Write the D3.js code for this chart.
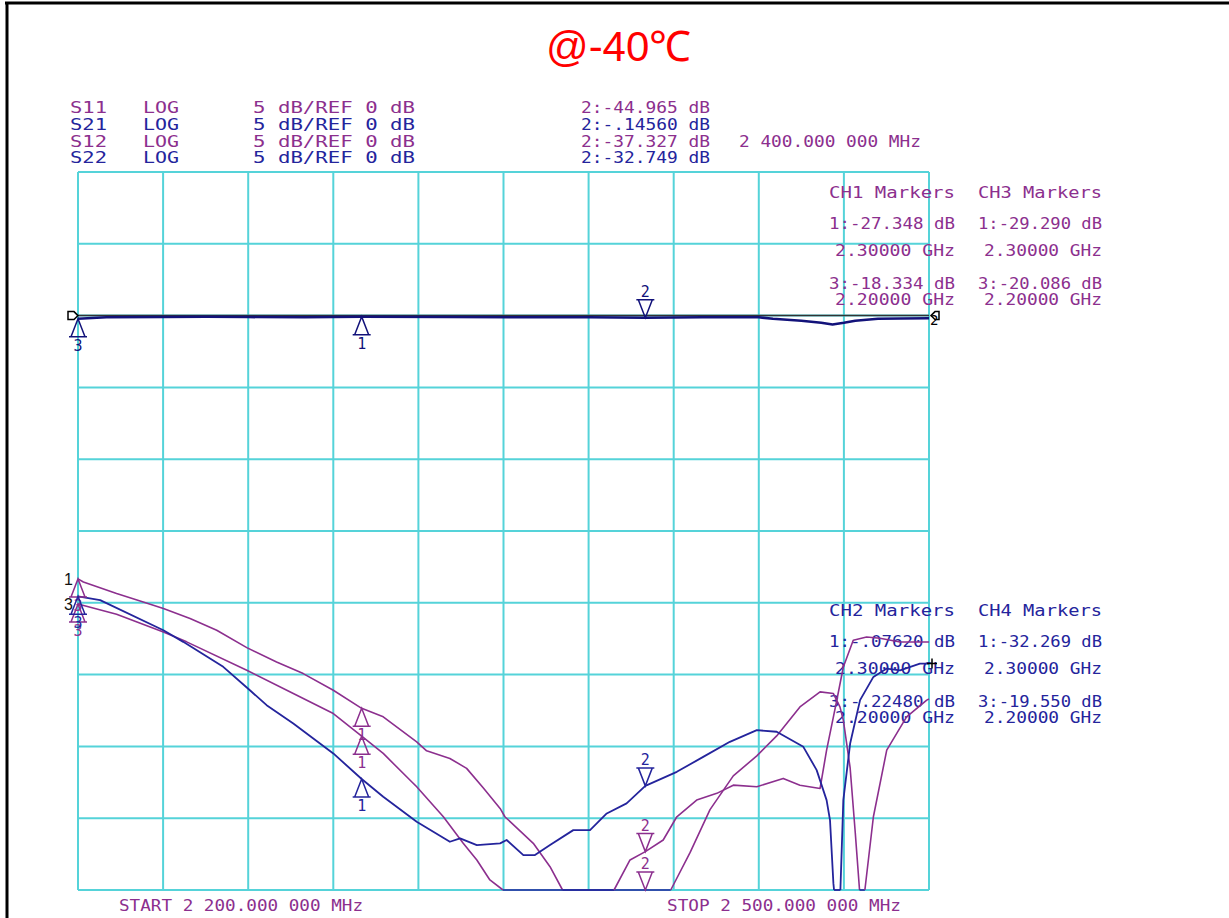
<!DOCTYPE html>
<html><head><meta charset="utf-8">
<script src="https://cdn.jsdelivr.net/npm/d3@7"></script>
<style>body{margin:0;background:#fff}svg{display:block}</style>
</head><body>
<svg id="c" width="1229" height="918"></svg>
<script>
// ---------------- DATA ----------------
const title = "@-40\u2103";
const freqStart = 2.2, freqStop = 2.5;          // GHz
const xGrid = [2.20,2.23,2.26,2.29,2.32,2.35,2.38,2.41,2.44,2.47,2.50];
const yGrid = [10,5,0,-5,-10,-15,-20,-25,-30,-35,-40];
const dbFloor = -40;

const traceNames = ["S11","S21","S12","S22"];
const traceFormat = ["LOG","LOG","LOG","LOG"];
const traceScale = ["5 dB/REF 0 dB","5 dB/REF 0 dB","5 dB/REF 0 dB","5 dB/REF 0 dB"];
const traceReadout = ["2:-44.965 dB","2:-.14560 dB","2:-37.327 dB","2:-32.749 dB"];
const markerFreqLabel = "2 400.000 000 MHz";
const startLabel = "START 2 200.000 000 MHz";
const stopLabel = "STOP 2 500.000 000 MHz";

const ch1Block = ["CH1 Markers","1:-27.348 dB","2.30000 GHz","3:-18.334 dB","2.20000 GHz"];
const ch3Block = ["CH3 Markers","1:-29.290 dB","2.30000 GHz","3:-20.086 dB","2.20000 GHz"];
const ch2Block = ["CH2 Markers","1:-.07620 dB","2.30000 GHz","3:-.22480 dB","2.20000 GHz"];
const ch4Block = ["CH4 Markers","1:-32.269 dB","2.30000 GHz","3:-19.550 dB","2.20000 GHz"];

// marker frequencies (markers 1,2,3)
const markerIds = ["1","2","3"];
const markerFreq = [2.30, 2.40, 2.20];
const s11Mk = [-27.348, -44.965, -18.334];
const s21Mk = [-0.0762, -0.1456, -0.2248];
const s12Mk = [-29.290, -37.327, -20.086];
const s22Mk = [-32.269, -32.749, -19.550];

// S11
const s11Freq = [2.2000,2.2019,2.2136,2.2230,2.2301,2.2395,2.2489,2.2595,2.2700,2.2794,2.2900,2.3000,2.3076,2.3194,2.3229,2.3311,2.3370,2.3429,2.3488,2.3505,2.3605,2.3664,2.3711,2.3800,2.3900,2.4000,2.4060,2.4087,2.4158,2.4228,2.4310,2.4393,2.4463,2.4545,2.4616,2.4663,2.4686,2.4698,2.4722,2.4740,2.4757,2.4764,2.4771,2.4804,2.4851,2.4921,2.4992,2.5000];
const s11Db   = [-18.33,-18.55,-19.36,-19.94,-20.40,-21.10,-21.91,-23.12,-24.12,-24.93,-26.09,-27.35,-27.94,-29.68,-30.31,-30.84,-31.53,-32.90,-34.32,-34.90,-36.75,-38.38,-40.10,-43.00,-45.20,-44.97,-42.50,-40.10,-37.38,-34.40,-32.05,-30.66,-29.27,-27.25,-26.20,-26.32,-27.25,-28.17,-31.50,-36.00,-40.50,-44.00,-40.50,-34.90,-30.26,-27.94,-26.78,-26.70];
// S12
const s12Freq = [2.2000,2.2136,2.2301,2.2383,2.2595,2.2759,2.2900,2.3000,2.3076,2.3194,2.3288,2.3358,2.3406,2.3452,2.3505,2.3600,2.3700,2.3800,2.3887,2.3946,2.4000,2.4063,2.4111,2.4181,2.4252,2.4310,2.4393,2.4486,2.4545,2.4616,2.4639,2.4663,2.4675,2.4698,2.4733,2.4780,2.4827,2.4898,2.5000];
const s12Db   = [-20.09,-20.80,-22.03,-22.72,-24.70,-26.32,-27.71,-29.29,-30.49,-32.81,-34.90,-36.75,-37.91,-39.30,-40.10,-42.00,-43.00,-42.00,-40.10,-37.91,-37.33,-36.52,-34.90,-33.74,-33.27,-32.70,-32.81,-32.23,-32.70,-32.93,-30.26,-27.94,-26.78,-24.47,-22.61,-22.38,-22.47,-22.73,-22.73];
// S22
const s22Freq = [2.2000,2.2078,2.2301,2.2371,2.2512,2.2606,2.2665,2.2759,2.2900,2.3000,2.3076,2.3194,2.3311,2.3347,2.3406,2.3488,2.3511,2.3570,2.3611,2.3664,2.3746,2.3805,2.3864,2.3934,2.4000,2.4111,2.4204,2.4298,2.4393,2.4463,2.4557,2.4604,2.4639,2.4651,2.4663,2.4675,2.4686,2.4698,2.4722,2.4757,2.4804,2.4851,2.4898,2.4968,2.5000];
const s22Db   = [-19.55,-19.81,-21.91,-22.72,-24.46,-26.09,-27.13,-28.40,-30.49,-32.27,-33.51,-35.25,-36.64,-36.40,-36.87,-36.75,-36.52,-37.57,-37.57,-36.87,-35.83,-35.83,-34.67,-33.97,-32.75,-31.77,-30.73,-29.68,-28.87,-28.98,-30.03,-31.65,-33.74,-35.13,-39.54,-42.00,-41.00,-33.74,-29.80,-26.78,-25.16,-24.58,-24.70,-24.23,-24.23];
// S21
const s21Freq = [2.200,2.210,2.230,2.245,2.260,2.280,2.300,2.330,2.360,2.380,2.400,2.420,2.440,2.445,2.455,2.462,2.466,2.470,2.474,2.482,2.490,2.500];
const s21Db   = [-0.22,-0.12,-0.10,-0.08,-0.10,-0.12,-0.08,-0.10,-0.12,-0.12,-0.15,-0.12,-0.12,-0.22,-0.36,-0.50,-0.62,-0.50,-0.36,-0.22,-0.20,-0.18];

// ---------------- STYLE ----------------
const PURPLE = "#8c2f8e", BLUE = "#24249c", NAVY = "#12127a", GRID = "#55d3d9";
const MONO = "'DejaVu Sans Mono', monospace";

const svg = d3.select("#c");
const x = d3.scaleLinear().domain([freqStart, freqStop]).range([78, 929]);
const y = d3.scaleLinear().domain([-40, 10]).range([890, 172]).clamp(true);

// frame
svg.append("line").attr("x1",5).attr("x2",1229).attr("y1",3).attr("y2",3).attr("stroke","#000").attr("stroke-width",3);
svg.append("line").attr("x1",7).attr("x2",7).attr("y1",2).attr("y2",918).attr("stroke","#000").attr("stroke-width",3);

// title
svg.append("text").attr("x",546).attr("y",61).text(title)
  .attr("font-family","'Liberation Sans', Arial, sans-serif").attr("font-size",42).attr("fill","#ff0000");

// grid
const g = svg.append("g");
g.selectAll(".vx").data(xGrid).join("line").attr("x1",d=>x(d)).attr("x2",d=>x(d)).attr("y1",y(10)).attr("y2",y(-40))
  .attr("stroke",GRID).attr("stroke-width",2);
g.selectAll(".hy").data(yGrid).join("line").attr("y1",d=>y(d)).attr("y2",d=>y(d)).attr("x1",x(freqStart)).attr("x2",x(freqStop))
  .attr("stroke",GRID).attr("stroke-width",2);

// text helper
function txt(s, px, py, w, col, size) {
  const t = svg.append("text").attr("x",px).attr("y",py).text(s)
    .attr("font-family",MONO).attr("font-size",size||15).attr("fill",col);
  if (w) t.attr("textLength",w).attr("lengthAdjust","spacingAndGlyphs");
  return t;
}
const traceCol = [PURPLE, BLUE, PURPLE, BLUE];
const headerY = [113,130,147,163];
traceNames.forEach((n,i)=>{
  txt(n, 70, headerY[i], 37, traceCol[i]);
  txt(traceFormat[i], 143, headerY[i], 36, traceCol[i]);
  txt(traceScale[i], 253, headerY[i], 162, traceCol[i]);
  txt(traceReadout[i], 581, headerY[i], 129, traceCol[i]);
});
txt(markerFreqLabel, 739, 147, 182, PURPLE);

function block(lines, x0, y0, col) {
  const dy = [0, 31, 58, 91, 107];
  const dx = [0, 0, 6, 0, 6];
  const w = [126, 126, 120, 126, 120];
  lines.forEach((s,i)=> txt(s, x0+dx[i], y0+dy[i], w[i]-(x0>900?2:0), col));
}
block(ch1Block, 829, 198, PURPLE);
block(ch3Block, 978, 198, PURPLE);
block(ch2Block, 829, 616, BLUE);
block(ch4Block, 978, 616, BLUE);

txt(startLabel, 119, 911, 244, PURPLE);
txt(stopLabel, 667, 911, 234, PURPLE);

// traces
function runs(fr, db, floor) {
  const out = []; let cur = null;
  for (let i=0;i<fr.length;i++){
    const c = db[i] < floor;
    if (i===0) { cur = {clip:c, pts:[]}; out.push(cur); }
    else {
      const pc = db[i-1] < floor;
      if (pc !== c) {
        const t = (floor - db[i-1])/(db[i]-db[i-1]);
        const fc = fr[i-1] + t*(fr[i]-fr[i-1]);
        cur.pts.push([fc, floor]);
        cur = {clip:c, pts:[[fc, floor]]}; out.push(cur);
      }
    }
    cur.pts.push([fr[i], c ? floor : db[i]]);
  }
  return out;
}
const line = d3.line().x(d=>x(d[0])).y(d=>y(d[1]));
function drawTrace(fr, db, col, w) {
  runs(fr, db, dbFloor).forEach(r=>{
    svg.append("path").attr("d", line(r.pts)).attr("fill","none")
      .attr("stroke", r.clip ? BLUE : col).attr("stroke-width", w).attr("stroke-linejoin","round");
  });
}
drawTrace(s11Freq, s11Db, PURPLE, 1.6);
drawTrace(s12Freq, s12Db, PURPLE, 1.6);
drawTrace(s22Freq, s22Db, BLUE, 1.8);
// reference line at 0 dB then S21
svg.append("line").attr("x1",x(freqStart)).attr("x2",x(freqStop)).attr("y1",y(0)).attr("y2",y(0))
  .attr("stroke","#333").attr("stroke-width",1.5);
drawTrace(s21Freq, s21Db, NAVY, 2.6);

// reference indicators
svg.append("path").attr("d",`M${x(freqStart)-10},${y(0)-4}h6l4,4l-4,4h-6z`).attr("fill","none").attr("stroke","#000").attr("stroke-width",1.5);
svg.append("path").attr("d",`M${x(freqStop)+10},${y(0)-4}h-4l-4,4l4,4h4z`).attr("fill","none").attr("stroke","#000").attr("stroke-width",1.5);
svg.append("text").attr("x",x(freqStop)+1).attr("y",y(0)+9).text("2").attr("font-family",MONO).attr("font-size",14).attr("fill","#000");

// markers
function drawMarkers(vals, col) {
  vals.forEach((v,i)=>{
    const px = x(markerFreq[i]), py = y(v);
    if (markerIds[i] === "2") {
      svg.append("path").attr("d",`M${px},${py}L${px-7},${py-18}H${px+7}Z M${px-9},${py-18}H${px+9}`)
        .attr("fill","none").attr("stroke",col).attr("stroke-width",1.5);
      svg.append("text").attr("x",px).attr("y",py-21).attr("text-anchor","middle").text(markerIds[i])
        .attr("font-family",MONO).attr("font-size",15).attr("fill",col);
    } else {
      svg.append("path").attr("d",`M${px},${py}L${px-7},${py+18}H${px+7}Z M${px-9},${py+18}H${px+9}`)
        .attr("fill","none").attr("stroke",col).attr("stroke-width",1.5);
      svg.append("text").attr("x",px).attr("y",py+32).attr("text-anchor","middle").text(markerIds[i])
        .attr("font-family",MONO).attr("font-size",15).attr("fill",col);
    }
  });
}
drawMarkers(s11Mk, PURPLE);
drawMarkers(s12Mk, PURPLE);
drawMarkers(s22Mk, BLUE);
drawMarkers(s21Mk, NAVY);

// active channel labels on the left edge
svg.append("text").attr("x",73).attr("y",y(s11Mk[2])+6).attr("text-anchor","end").text("1")
  .attr("font-family","'Liberation Sans', Arial, sans-serif").attr("font-size",16).attr("fill","#111");
svg.append("text").attr("x",73).attr("y",y(s12Mk[2])+6).attr("text-anchor","end").text("3")
  .attr("font-family","'Liberation Sans', Arial, sans-serif").attr("font-size",16).attr("fill","#111");

// end-of-sweep cross on S22
const ex = x(freqStop)+3, ey = y(s22Db[s22Db.length-1]);
svg.append("path").attr("d",`M${ex-5},${ey}H${ex+5}M${ex},${ey-5}V${ey+5}`).attr("stroke","#000").attr("stroke-width",1.5);
</script>
</body></html>
